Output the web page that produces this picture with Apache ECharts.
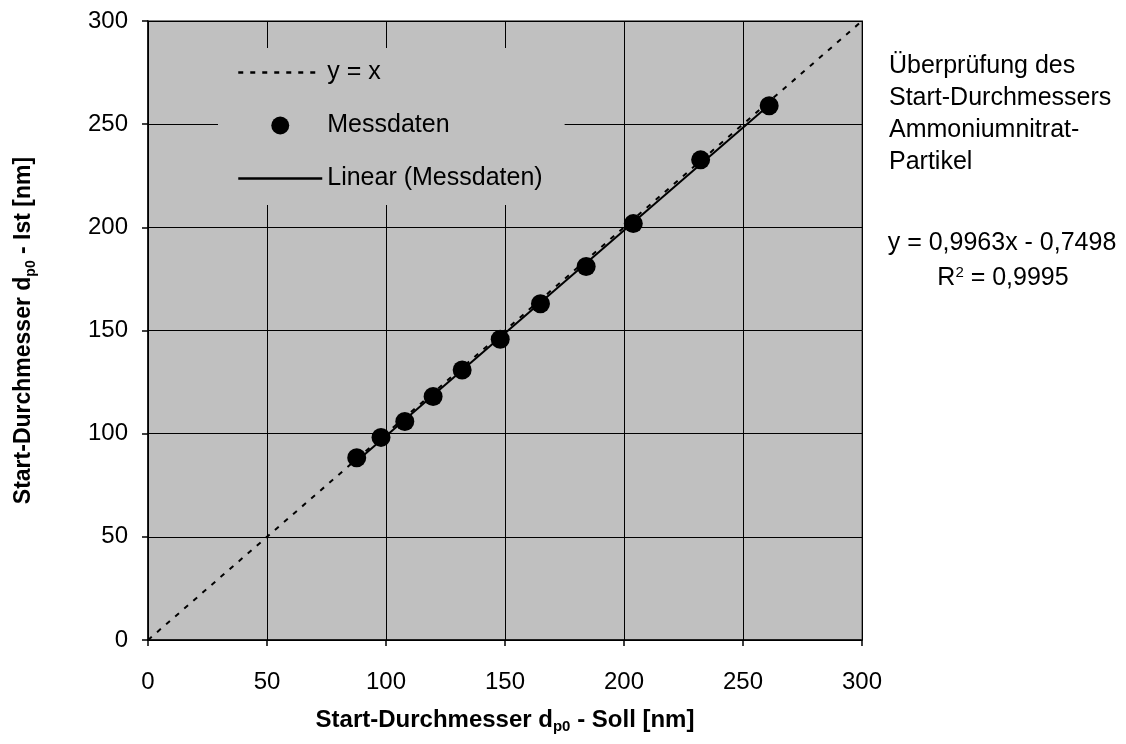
<!DOCTYPE html>
<html>
<head>
<meta charset="utf-8">
<title>Start-Durchmesser Soll / Ist</title>
<script src="https://cdn.jsdelivr.net/npm/echarts@6/dist/echarts.min.js"></script>
<style>
  html, body { margin: 0; padding: 0; background: #fff; }
  #chart { width: 1126px; height: 744px; }
</style>
</head>
<body>
<div id="chart"></div>
<script>
// Measured start diameters of ammonium nitrate particles, set value (Soll) vs. actual value (Ist), in nm
const sollValues = [87.7, 97.9, 107.9, 119.8, 132.0, 148.0, 164.9, 184.1, 203.9, 232.2, 261.0];
const istValues  = [88.3, 98.2, 105.9, 118.0, 130.9, 145.8, 163.0, 181.0, 201.8, 232.7, 258.9];

// Linear fit of the measurements
const fitSlope = 0.9963;
const fitIntercept = -0.7498;
const fitR2 = 0.9995;

// Reference line y = x
const identityRange = [0, 304];

// Axis range and tick step (nm)
const axisRange = [0, 300];
const axisStep = 50;

const seriesNames = ['y = x', 'Messdaten', 'Linear (Messdaten)'];
const infoLines = ['Überprüfung des', 'Start-Durchmessers', 'Ammoniumnitrat-', 'Partikel'];

const FONT = "'Liberation Sans', Arial, sans-serif";
const de = v => v.toFixed(4).replace('.', ',');

const measured = sollValues.map((x, i) => [x, istValues[i]]);
const fitX = [Math.min(...sollValues), Math.max(...sollValues)];
const fitLine = fitX.map(x => [x, fitSlope * x + fitIntercept]);
const identityLine = identityRange.map(v => [v, v]);

const eqText = 'y = ' + de(fitSlope) + 'x ' + (fitIntercept < 0 ? '- ' : '+ ') + de(Math.abs(fitIntercept));
const r2Text = 'R{sup|2} = ' + de(fitR2);

const dashPattern = [5, 7];

const axisCommon = {
  type: 'value',
  min: axisRange[0],
  max: axisRange[1],
  interval: axisStep,
  axisLine: { show: true, onZero: false, lineStyle: { color: '#000', width: 1.5 } },
  axisTick: { show: true, inside: false, length: 6, lineStyle: { color: '#000', width: 1.5 } },
  splitLine: { show: true, lineStyle: { color: '#000', width: 1 } },
  nameLocation: 'middle'
};

const titleRich = {
  main: { fontFamily: FONT, fontSize: 24, fontWeight: 'bold', color: '#000', lineHeight: 28 },
  sub: { fontFamily: FONT, fontSize: 15, fontWeight: 'bold', color: '#000', lineHeight: 16, verticalAlign: 'bottom' }
};

const chart = echarts.init(document.getElementById('chart'), null, { renderer: 'canvas' });

chart.setOption({
  backgroundColor: '#fff',
  animation: false,
  color: ['#000'],
  textStyle: { fontFamily: FONT },
  grid: {
    left: 148, top: 21, width: 714, height: 619,
    show: true, backgroundColor: '#C0C0C0', borderColor: '#808080', borderWidth: 2,
    containLabel: false
  },
  xAxis: Object.assign({}, axisCommon, {
    name: '{main|Start-Durchmesser d}{sub|p0}{main| - Soll [nm]}',
    nameGap: 66,
    nameTextStyle: { rich: titleRich },
    axisLabel: { fontFamily: FONT, fontSize: 24, color: '#000', margin: 30 }
  }),
  yAxis: Object.assign({}, axisCommon, {
    name: '{main|Start-Durchmesser d}{sub|p0}{main| - Ist [nm]}',
    nameGap: 110,
    nameRotate: 90,
    nameTextStyle: { rich: Object.assign({}, titleRich, {
      main: Object.assign({}, titleRich.main, { fontSize: 23 }),
      sub: Object.assign({}, titleRich.sub, { fontSize: 14 })
    }) },
    axisLabel: { fontFamily: FONT, fontSize: 24, color: '#000', margin: 20 }
  }),
  legend: {
    orient: 'vertical',
    left: 218,
    top: 48,
    padding: [8, 22, 10, 19],
    backgroundColor: '#C0C0C0',
    itemWidth: 84,
    itemHeight: 18,
    itemGap: 20,
    selectedMode: false,
    textStyle: { fontFamily: FONT, fontSize: 25, color: '#000', lineHeight: 25, padding: [8, 0, 0, 0] },
    data: [
      { name: seriesNames[0], itemStyle: { opacity: 0 }, lineStyle: { color: '#000', width: 2.5, type: dashPattern } },
      { name: seriesNames[1] },
      { name: seriesNames[2], itemStyle: { opacity: 0 }, lineStyle: { color: '#000', width: 2.5, type: 'solid' } }
    ]
  },
  series: [
    {
      name: seriesNames[0],
      type: 'line',
      data: identityLine,
      symbol: 'none',
      showSymbol: false,
      clip: false,
      itemStyle: { color: '#000' },
      lineStyle: { color: '#000', width: 2, type: dashPattern },
      z: 2
    },
    {
      name: seriesNames[2],
      type: 'line',
      data: fitLine,
      symbol: 'none',
      showSymbol: false,
      itemStyle: { color: '#000' },
      lineStyle: { color: '#000', width: 2, type: 'solid' },
      z: 3
    },
    {
      name: seriesNames[1],
      type: 'scatter',
      data: measured,
      symbol: 'circle',
      symbolSize: 19,
      itemStyle: { color: '#000', opacity: 1 },
      z: 4
    }
  ],
  graphic: [
    {
      type: 'text', left: 889, top: 50,
      style: { text: infoLines.join('\n'), font: '25px ' + FONT, lineHeight: 32, fill: '#000' }
    },
    {
      type: 'text', x: 1002, y: 243,
      style: { text: eqText, font: '25px ' + FONT, fill: '#000', align: 'center', verticalAlign: 'middle' }
    },
    {
      type: 'text', x: 1003, y: 278,
      style: {
        text: r2Text, font: '25px ' + FONT, fill: '#000', align: 'center', verticalAlign: 'middle',
        rich: { sup: { font: '15px ' + FONT, fill: '#000', verticalAlign: 'top', lineHeight: 14 } }
      }
    }
  ]
});
</script>
</body>
</html>
